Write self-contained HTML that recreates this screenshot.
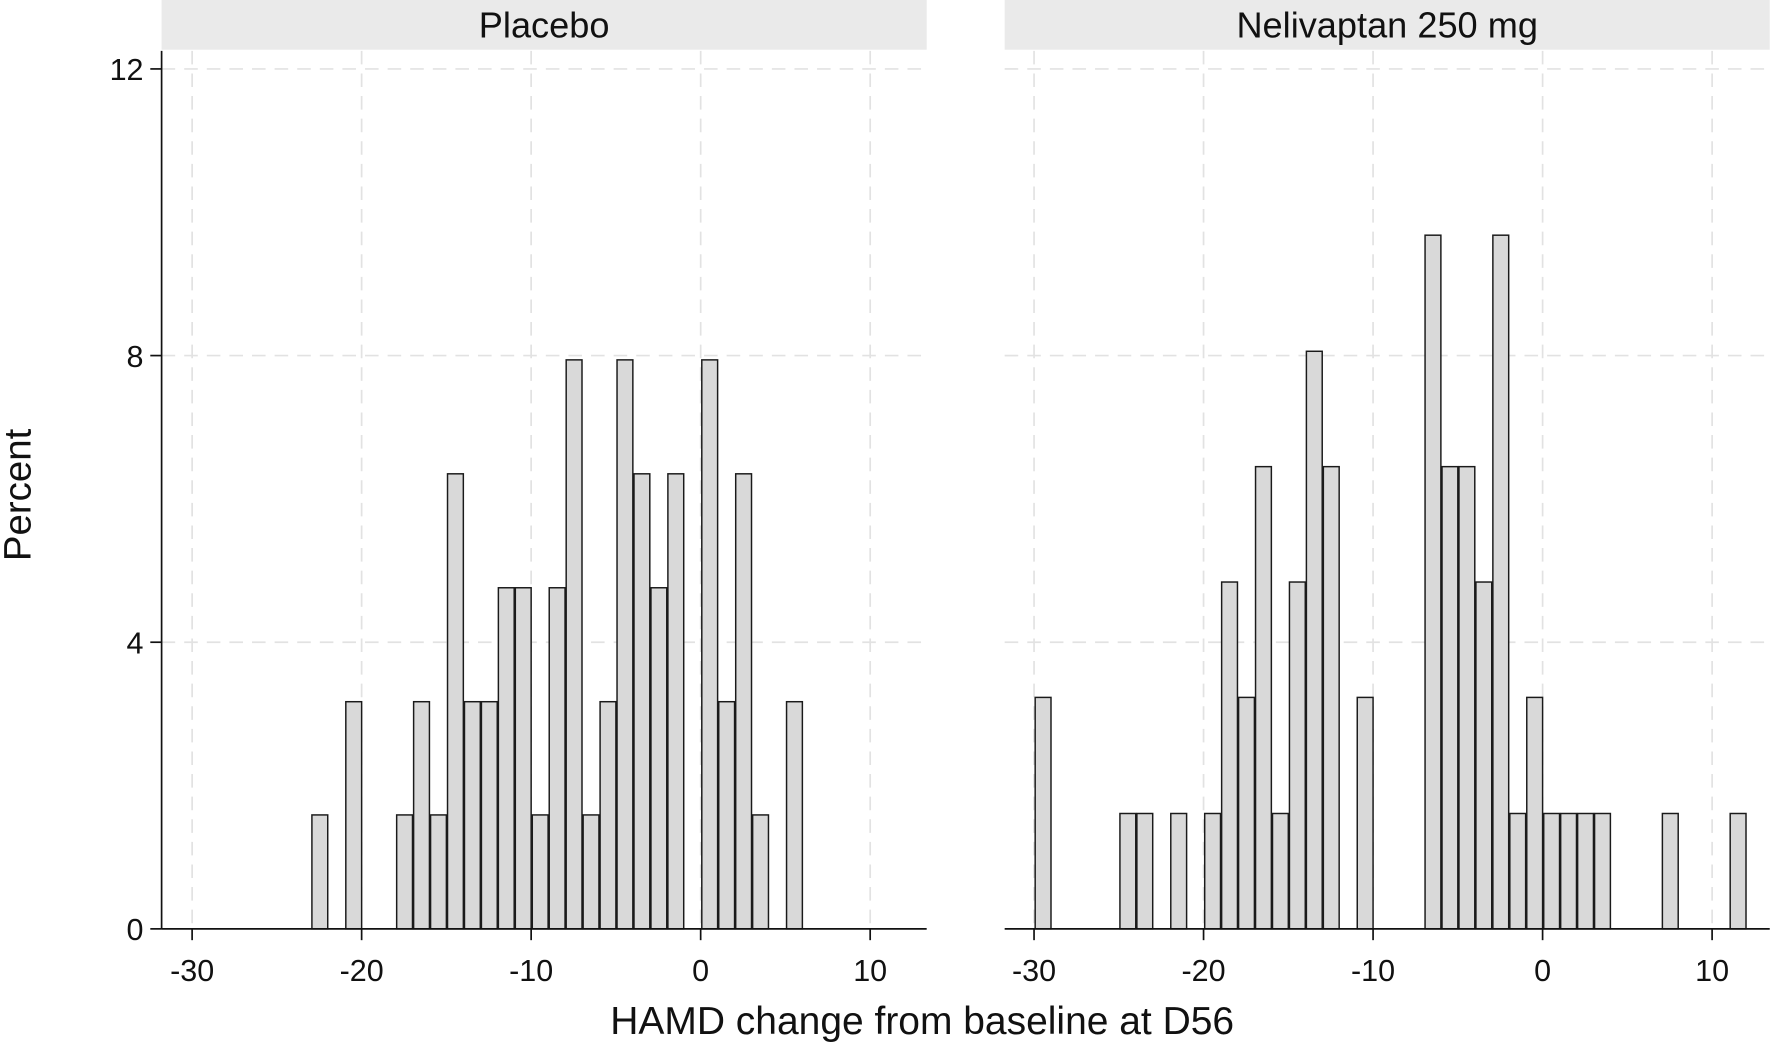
<!DOCTYPE html>
<html><head><meta charset="utf-8"><style>
html,body{margin:0;padding:0;background:#fff;}
svg{display:block;font-family:"Liberation Sans",Arial,sans-serif;}
</style></head><body>
<svg id="chart" width="1772" height="1043" viewBox="0 0 1568 923" preserveAspectRatio="none" xmlns="http://www.w3.org/2000/svg"></svg>
<script>
const bins = [-30,-29,-28,-27,-26,-25,-24,-23,-22,-21,-20,-19,-18,-17,-16,-15,-14,-13,-12,-11,-10,-9,-8,-7,-6,-5,-4,-3,-2,-1,0,1,2,3,4,5,6,7,8,9,10,11];
const placeboBins = [-23,-21,-18,-17,-16,-15,-14,-13,-12,-11,-10,-9,-8,-7,-6,-5,-4,-3,-2,0,1,2,3,5];
const placeboPct = [1.59,3.17,1.59,3.17,1.59,6.35,3.17,3.17,4.76,4.76,1.59,4.76,7.94,1.59,3.17,7.94,6.35,4.76,6.35,7.94,3.17,6.35,1.59,3.17];
const nelivBins = [-30,-25,-24,-22,-20,-19,-18,-17,-16,-15,-14,-13,-11,-7,-6,-5,-4,-3,-2,-1,0,1,2,3,7,11];
const nelivPct = [3.23,1.61,1.61,1.61,1.61,4.84,3.23,6.45,1.61,4.84,8.06,6.45,3.23,9.68,6.45,6.45,4.84,9.68,1.61,3.23,1.61,1.61,1.61,1.61,1.61,1.61];
const xTicks = [-30,-20,-10,0,10];
const yTicks = [0,4,8,12];
const panelTitles = ["Placebo","Nelivaptan 250 mg"];

const NS="http://www.w3.org/2000/svg";
const svg=document.getElementById('chart');
function mk(tag,attrs,parent){const e=document.createElementNS(NS,tag);for(const k in attrs)e.setAttribute(k,attrs[k]);(parent||svg).appendChild(e);return e;}
const y0=822, yPer=(822-61)/12;
const yScale=v=>y0-v*yPer;
const panels=[{x0:143,x1:820,zero:170,bins:placeboBins,pct:placeboPct,axis:true,name:'placebo'},
              {x0:889,x1:1566,zero:915,bins:nelivBins,pct:nelivPct,axis:false,name:'nelivaptan'}];
panels.forEach((p,i)=>{
  const xs=v=>p.zero+(v+30)*15;
  const g=mk('g',{});
  
  
  const strip=mk('rect',{x:p.x0,y:0,width:p.x1-p.x0,height:44,fill:'#eaeaea'},g);
  
  
  const t=mk('text',{x:(p.x0+p.x1)/2,y:33,'text-anchor':'middle','font-size':32,fill:'#111'},g);
  t.textContent=panelTitles[i];
  
  
  yTicks.forEach(v=>{ if(v>0){const l=mk('line',{x1:p.x0,x2:p.x1,y1:yScale(v),y2:yScale(v),stroke:'#e2e2e2','stroke-width':1.5,'stroke-dasharray':'12,8'},g);
    }});
  xTicks.forEach(v=>{const l=mk('line',{x1:xs(v),x2:xs(v),y1:45,y2:y0,stroke:'#e2e2e2','stroke-width':1.5,'stroke-dasharray':'12,8'},g);
    });
  p.bins.forEach((b,j)=>{
    const r=mk('rect',{x:xs(b)+1,y:yScale(p.pct[j]),width:14,height:y0-yScale(p.pct[j]),fill:'#d9d9d9',stroke:'#1a1a1a','stroke-width':1.3},g);
    
    
  });
  const ax=mk('line',{x1:p.x0,x2:p.x1,y1:y0,y2:y0,stroke:'#111','stroke-width':1.5},g);
  
  xTicks.forEach(v=>{
    const tk=mk('line',{x1:xs(v),x2:xs(v),y1:y0,y2:y0+10,stroke:'#111','stroke-width':1.5},g);
    
    const tl=mk('text',{x:xs(v),y:868,'text-anchor':'middle','font-size':27,fill:'#111'},g);
    tl.textContent=v;
    
  });
  if(p.axis){
    const ya=mk('line',{x1:p.x0,x2:p.x0,y1:45,y2:y0,stroke:'#111','stroke-width':1.5},g);
    
    yTicks.forEach(v=>{
      const tk=mk('line',{x1:p.x0-10,x2:p.x0,y1:yScale(v),y2:yScale(v),stroke:'#111','stroke-width':1.5},g);
      
      const tl=mk('text',{x:p.x0-16,y:yScale(v)+10,'text-anchor':'end','font-size':27,fill:'#111'},g);
      tl.textContent=v;
      
    });
  }
});
const xt=mk('text',{x:816,y:915,'text-anchor':'middle','font-size':34.5,fill:'#111'});
xt.textContent='HAMD change from baseline at D56';

const yt=mk('text',{x:0,y:0,'text-anchor':'middle','font-size':34,fill:'#111',transform:'translate(27,438) rotate(-90)'});
yt.textContent='Percent';

</script>
</body></html>
